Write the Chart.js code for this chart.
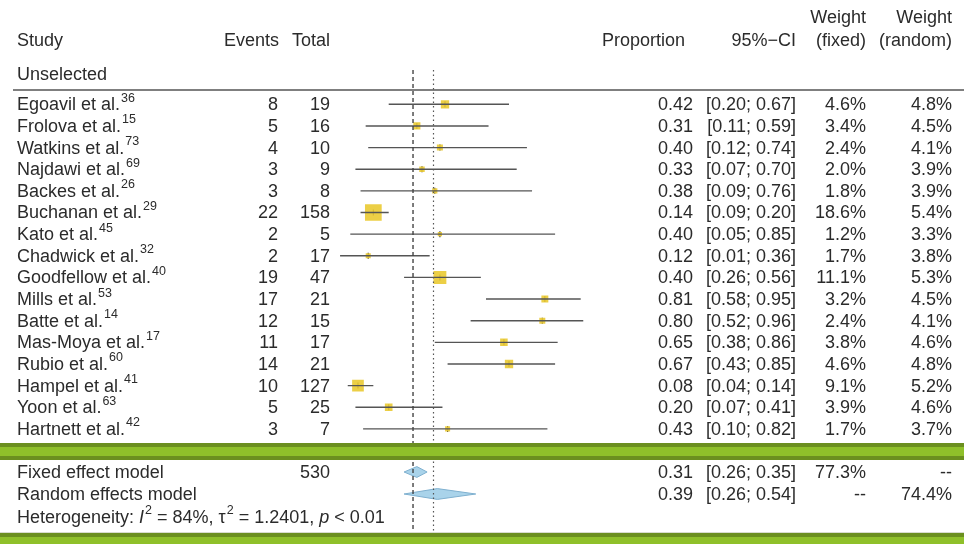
<!DOCTYPE html>
<html>
<head>
<meta charset="utf-8">
<style>
  body { margin: 0; background: #fff; }
  #wrap { width: 964px; height: 544px; }
</style>
<script src="https://cdn.jsdelivr.net/npm/chart.js@4/dist/chart.umd.min.js"></script>
</head>
<body>
<div id="wrap"><canvas id="forest" width="964" height="544"></canvas></div>
<script>
    // study data
    const studies = ['Egoavil et al.', 'Frolova et al.', 'Watkins et al.', 'Najdawi et al.', 'Backes et al.',
        'Buchanan et al.', 'Kato et al.', 'Chadwick et al.', 'Goodfellow et al.', 'Mills et al.', 'Batte et al.',
        'Mas-Moya et al.', 'Rubio et al.', 'Hampel et al.', 'Yoon et al.', 'Hartnett et al.'];
    const refs = ['36', '15', '73', '69', '26', '29', '45', '32', '40', '53', '14', '17', '60', '41', '63', '42'];
    const events = [8, 5, 4, 3, 3, 22, 2, 2, 19, 17, 12, 11, 14, 10, 5, 3];
    const totals = [19, 16, 10, 9, 8, 158, 5, 17, 47, 21, 15, 17, 21, 127, 25, 7];
    const props = [0.42, 0.31, 0.40, 0.33, 0.38, 0.14, 0.40, 0.12, 0.40, 0.81, 0.80, 0.65, 0.67, 0.08, 0.20, 0.43];
    const ciLow = [0.20, 0.11, 0.12, 0.07, 0.09, 0.09, 0.05, 0.01, 0.26, 0.58, 0.52, 0.38, 0.43, 0.04, 0.07, 0.10];
    const ciHigh = [0.67, 0.59, 0.74, 0.70, 0.76, 0.20, 0.85, 0.36, 0.56, 0.95, 0.96, 0.86, 0.85, 0.14, 0.41, 0.82];
    const wFixed = [4.6, 3.4, 2.4, 2.0, 1.8, 18.6, 1.2, 1.7, 11.1, 3.2, 2.4, 3.8, 4.6, 9.1, 3.9, 1.7];
    const wRandom = [4.8, 4.5, 4.1, 3.9, 3.9, 5.4, 3.3, 3.8, 5.3, 4.5, 4.1, 4.6, 4.8, 5.2, 4.6, 3.7];

    // pooled estimates
    const pooledLabels = ['Fixed effect model', 'Random effects model'];
    const pooledEst = [0.31, 0.39];
    const pooledLow = [0.26, 0.26];
    const pooledHigh = [0.35, 0.54];
    const pooledWFixed = ['77.3%', '--'];
    const pooledWRandom = ['--', '74.4%'];
    const totalN = 530;
    const refLines = [0.295, 0.375]; // dashed / dotted vertical lines as drawn

    // layout (pixels)
    const ROW = 21.64, FIRST = 104.3, H = 544;
    const yMin = -FIRST / ROW;
    const yMax = yMin + H / ROW;
    const rowOf = px => (px - FIRST) / ROW;
    const pooledRows = [rowOf(472), rowOf(494)];
    const FONT = '"Liberation Sans", Arial, sans-serif';
    const FS = 18;
    const TXT = '#2b2b2b';

    const fmt = v => v.toFixed(2);
    const pct = v => v.toFixed(1) + '%';

    // CI segments separated by gaps
    const ciData = [];
    studies.forEach((s, i) => {
        ciData.push({ x: ciLow[i], y: i }, { x: ciHigh[i], y: i }, { x: props[i], y: null });
    });

    function diamond(k) {
        const r = pooledRows[k], h = 0.25;
        return [
            { x: pooledLow[k], y: r }, { x: pooledEst[k], y: r - h },
            { x: pooledHigh[k], y: r }, { x: pooledEst[k], y: r + h }, { x: pooledLow[k], y: r }
        ];
    }

    function txt(ctx, s, x, y, align, opts = {}) {
        ctx.font = (opts.italic ? 'italic ' : '') + (opts.size || FS) + 'px ' + FONT;
        ctx.textAlign = align;
        ctx.textBaseline = 'middle';
        ctx.fillStyle = TXT;
        ctx.fillText(s, x, y);
        return ctx.measureText(s).width;
    }

    // draw a run of segments with optional italic / superscript
    function run(ctx, parts, x, y) {
        for (const p of parts) {
            if (p.sup) {
                x += txt(ctx, p.t, x + 1, y - 7, 'left', { size: 12.5 }) + 1;
            } else {
                x += txt(ctx, p.t, x, y, 'left', { italic: p.it });
            }
        }
    }

    const ci = (lo, hi) => '[' + fmt(lo) + '; ' + fmt(hi) + ']';

    const tablePlugin = {
        id: 'table',
        afterDatasetsDraw(chart) {
            const ctx = chart.ctx;
            const y = v => chart.scales.y.getPixelForValue(v);
            ctx.save();

            // header
            txt(ctx, 'Study', 17, 41, 'left');
            txt(ctx, 'Events', 279, 41, 'right');
            txt(ctx, 'Total', 330, 41, 'right');
            txt(ctx, 'Proportion', 685, 41, 'right');
            txt(ctx, '95%\u2212CI', 796, 41, 'right');
            txt(ctx, 'Weight', 866, 18, 'right');
            txt(ctx, '(fixed)', 866, 41, 'right');
            txt(ctx, 'Weight', 952, 18, 'right');
            txt(ctx, '(random)', 952, 41, 'right');
            txt(ctx, 'Unselected', 17, 75, 'left');

            ctx.strokeStyle = '#555';
            ctx.lineWidth = 1.5;
            ctx.beginPath();
            ctx.moveTo(13, 90);
            ctx.lineTo(964, 90);
            ctx.stroke();

            // study rows
            studies.forEach((s, i) => {
                const py = y(i) + 1;
                run(ctx, [{ t: s }, { t: refs[i], sup: true }], 17, py);
                txt(ctx, String(events[i]), 278, py, 'right');
                txt(ctx, String(totals[i]), 330, py, 'right');
                txt(ctx, fmt(props[i]), 693, py, 'right');
                txt(ctx, ci(ciLow[i], ciHigh[i]), 796, py, 'right');
                txt(ctx, pct(wFixed[i]), 866, py, 'right');
                txt(ctx, pct(wRandom[i]), 952, py, 'right');
            });

            // pooled rows
            pooledLabels.forEach((s, k) => {
                const py = y(pooledRows[k]) + 1;
                txt(ctx, s, 17, py, 'left');
                if (k === 0) txt(ctx, String(totalN), 330, py, 'right');
                txt(ctx, fmt(pooledEst[k]), 693, py, 'right');
                txt(ctx, ci(pooledLow[k], pooledHigh[k]), 796, py, 'right');
                txt(ctx, pooledWFixed[k], 866, py, 'right');
                txt(ctx, pooledWRandom[k], 952, py, 'right');
            });

            run(ctx, [
                { t: 'Heterogeneity: ' }, { t: 'I', it: true }, { t: '2', sup: true },
                { t: ' = 84%, \u03c4' }, { t: '2', sup: true }, { t: ' = 1.2401, ' },
                { t: 'p', it: true }, { t: ' < 0.01' }
            ], 17, 518);
            ctx.restore();
        },
        afterDraw(chart) {
            // green slide bands over the cropped figure
            const ctx = chart.ctx;
            ctx.save();
            ctx.fillStyle = '#6b8f1f';
            ctx.fillRect(0, 443, 964, 17);
            ctx.fillStyle = '#8fc02a';
            ctx.fillRect(0, 447, 964, 9);
            ctx.fillStyle = '#d8dccf';
            ctx.fillRect(0, 532, 964, 1);
            ctx.fillStyle = '#6b8f1f';
            ctx.fillRect(0, 533, 964, 11);
            ctx.fillStyle = '#8fc02a';
            ctx.fillRect(0, 537, 964, 7);
            ctx.restore();
        }
    };

    const ctx = document.getElementById('forest').getContext('2d');
    new Chart(ctx, {
        type: 'scatter',
        data: {
            datasets: [
                {
                    type: 'line',
                    data: [{ x: refLines[0], y: rowOf(70) }, { x: refLines[0], y: rowOf(540) }],
                    borderColor: '#444',
                    borderWidth: 1.4,
                    borderDash: [4, 3],
                    pointRadius: 0
                },
                {
                    type: 'line',
                    data: [{ x: refLines[1], y: rowOf(70) }, { x: refLines[1], y: rowOf(540) }],
                    borderColor: '#555',
                    borderWidth: 1.2,
                    borderDash: [1.5, 3],
                    pointRadius: 0
                },
                {
                    type: 'line',
                    data: ciData,
                    borderColor: '#555',
                    borderWidth: 1.4,
                    pointRadius: 0,
                    spanGaps: false
                },
                {
                    data: props.map((p, i) => ({ x: p, y: i })),
                    pointStyle: 'rect',
                    pointRadius: wFixed.map(w => 2.74 * Math.sqrt(w)),
                    backgroundColor: 'rgba(234, 202, 50, 0.9)',
                    borderWidth: 0
                },
                {
                    data: props.map((p, i) => ({ x: p, y: i })),
                    pointStyle: 'line',
                    rotation: 90,
                    pointRadius: 3,
                    borderColor: '#333',
                    borderWidth: 1.2
                },
                {
                    type: 'line',
                    data: diamond(0),
                    borderColor: '#7fb0cf',
                    backgroundColor: '#a9d3ea',
                    borderWidth: 1,
                    fill: 'shape',
                    pointRadius: 0,
                    tension: 0
                },
                {
                    type: 'line',
                    data: diamond(1),
                    borderColor: '#7fb0cf',
                    backgroundColor: '#a9d3ea',
                    borderWidth: 1,
                    fill: 'shape',
                    pointRadius: 0,
                    tension: 0
                }
            ]
        },
        options: {
            responsive: false,
            animation: false,
            devicePixelRatio: 1,
            layout: { autoPadding: false, padding: { left: 337.5, right: 370.5, top: 0, bottom: 0 } },
            scales: {
                x: { type: 'linear', min: 0, max: 1, display: false },
                y: { type: 'linear', min: yMin, max: yMax, reverse: true, display: false }
            },
            plugins: {
                legend: { display: false },
                tooltip: { enabled: false }
            }
        },
        plugins: [tablePlugin]
    });
</script>
</body>
</html>
